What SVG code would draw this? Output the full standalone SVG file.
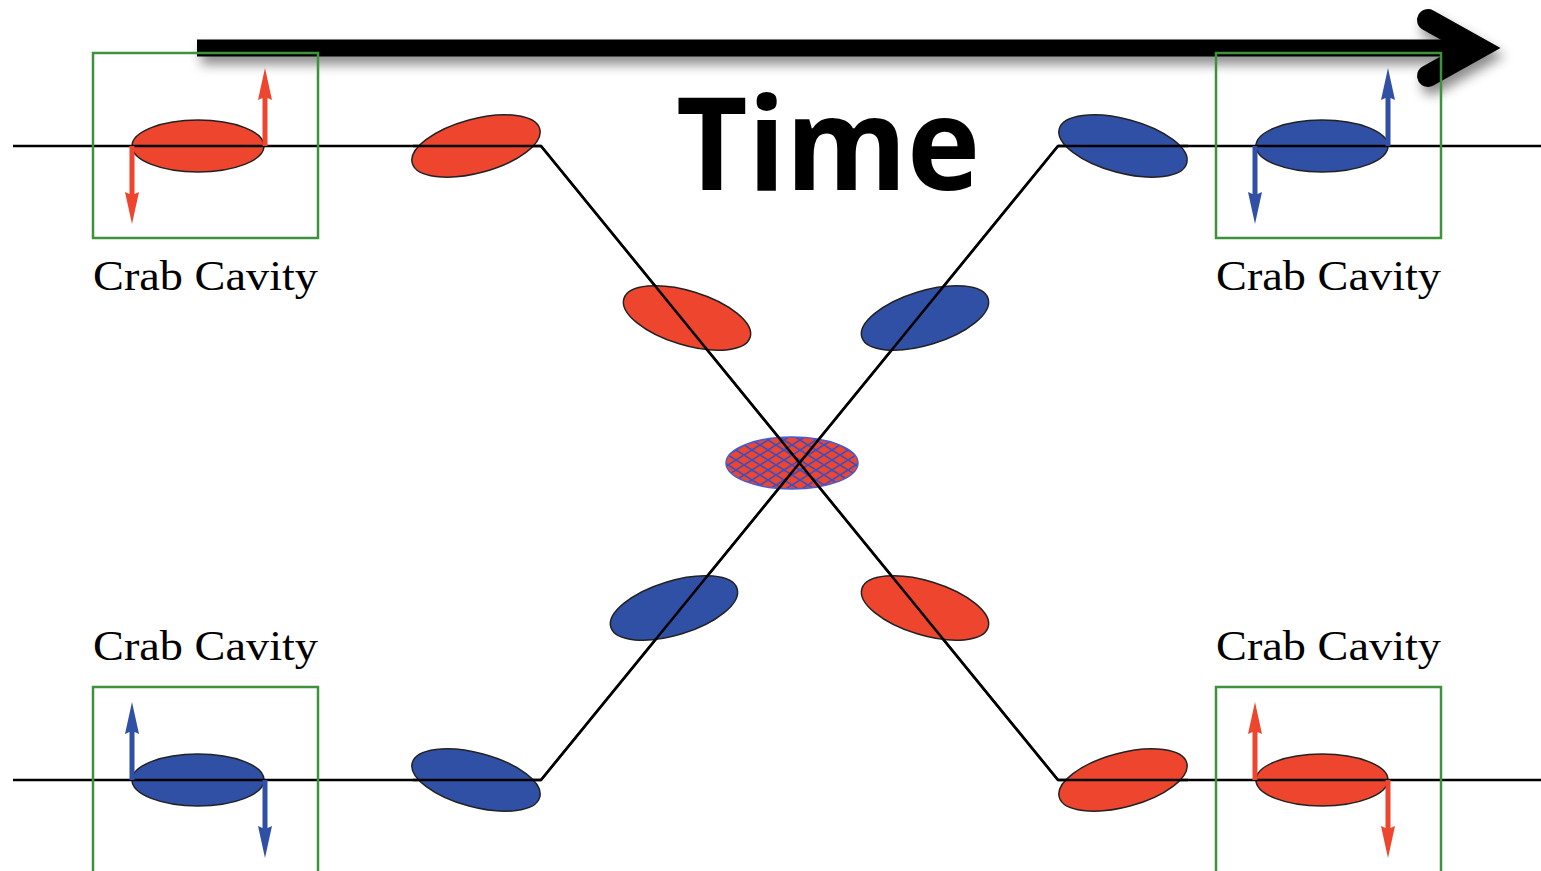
<svg xmlns="http://www.w3.org/2000/svg" width="1541" height="871" viewBox="0 0 1541 871">
<defs>
<style>
.red{fill:#EE452E;stroke:#222;stroke-width:1.5}
.blue{fill:#3050A6;stroke:#222;stroke-width:1.5}
.box{fill:none;stroke:#3F923C;stroke-width:2.5}
.beam{fill:none;stroke:#000;stroke-width:2.5}
.lbl{font-family:"Liberation Serif",serif;font-size:43px;fill:#000}
.ra{fill:#EE452E}
.ba{fill:#3050A6}
</style>
<pattern id="hatch" width="16" height="10" patternUnits="userSpaceOnUse">
<rect width="16" height="10" fill="#EE452E"/>
<path d="M0,0 L16,10 M16,0 L0,10" stroke="#3A4FC0" stroke-width="1.6"/>
</pattern>
<filter id="sh" x="-5%" y="-50%" width="110%" height="250%">
<feDropShadow dx="4" dy="8" stdDeviation="6" flood-color="#000" flood-opacity="0.45"/>
</filter>
<path id="up" d="M-2.5,0 L-2.5,-48 L-7,-46 L0,-78 L7,-46 L2.5,-48 L2.5,0 Z"/>
</defs>

<g id="connectors">
<polyline class="beam" points="13,146 541,146 1058,780 1541,780"/>
<polyline class="beam" points="13,780 541,780 1058,146 1541,146"/>
</g>

<g id="time">
<g filter="url(#sh)">
<line x1="197" y1="48" x2="1470" y2="48" stroke="#000" stroke-width="17"/>
<polyline points="1428,20 1478,48 1428,76" fill="none" stroke="#000" stroke-width="22" stroke-linecap="round" stroke-linejoin="miter"/>
</g>
<text x="676" y="190" font-family="'Open Sans',sans-serif" font-weight="bold" font-size="130" textLength="304" lengthAdjust="spacingAndGlyphs">Time</text>
</g>

<g id="cc-top-left">
<rect class="box" x="93" y="53" width="225" height="185"/>
<ellipse class="red" cx="198" cy="146" rx="66" ry="26"/>
<line x1="132" y1="146" x2="265" y2="146" stroke="#000" stroke-width="2.5"/>
<use href="#up" class="ra" x="265" y="146"/>
<use href="#up" class="ra" transform="translate(132,146) scale(1,-1)"/>
<text class="lbl" x="93" y="290" textLength="225" lengthAdjust="spacingAndGlyphs">Crab Cavity</text>
</g>

<g id="cc-top-right">
<rect class="box" x="1216" y="53" width="225" height="185"/>
<ellipse class="blue" cx="1322" cy="146" rx="66" ry="26"/>
<line x1="1255" y1="146" x2="1388" y2="146" stroke="#000" stroke-width="2.5"/>
<use href="#up" class="ba" x="1388" y="146"/>
<use href="#up" class="ba" transform="translate(1255,146) scale(1,-1)"/>
<text class="lbl" x="1216" y="290" textLength="225" lengthAdjust="spacingAndGlyphs">Crab Cavity</text>
</g>

<g id="cc-bottom-left">
<rect class="box" x="93" y="687" width="225" height="200"/>
<ellipse class="blue" cx="198" cy="780" rx="66" ry="26"/>
<line x1="132" y1="780" x2="265" y2="780" stroke="#000" stroke-width="2.5"/>
<use href="#up" class="ba" x="132" y="780"/>
<use href="#up" class="ba" transform="translate(265,780) scale(1,-1)"/>
<text class="lbl" x="93" y="660" textLength="225" lengthAdjust="spacingAndGlyphs">Crab Cavity</text>
</g>

<g id="cc-bottom-right">
<rect class="box" x="1216" y="687" width="225" height="200"/>
<ellipse class="red" cx="1322" cy="780" rx="66" ry="26"/>
<line x1="1255" y1="780" x2="1388" y2="780" stroke="#000" stroke-width="2.5"/>
<use href="#up" class="ra" x="1255" y="780"/>
<use href="#up" class="ra" transform="translate(1388,780) scale(1,-1)"/>
<text class="lbl" x="1216" y="660" textLength="225" lengthAdjust="spacingAndGlyphs">Crab Cavity</text>
</g>

<g id="bunch-r1"><ellipse class="red" cx="0" cy="0" rx="66" ry="27" transform="translate(476,146) rotate(-15)"/><line x1="413" y1="146" x2="541" y2="146" stroke="#000" stroke-width="2.5"/></g>
<g id="bunch-r2"><ellipse class="red" cx="0" cy="0" rx="66" ry="27" transform="translate(687,318) rotate(17)"/></g>
<g id="bunch-r3"><ellipse class="red" cx="0" cy="0" rx="66" ry="27" transform="translate(925,608) rotate(17)"/></g>
<g id="bunch-r4"><ellipse class="red" cx="0" cy="0" rx="66" ry="27" transform="translate(1123,780) rotate(-15)"/><line x1="1058" y1="780" x2="1188" y2="780" stroke="#000" stroke-width="2.5"/></g>
<g id="bunch-b1"><ellipse class="blue" cx="0" cy="0" rx="66" ry="27" transform="translate(476,780) rotate(15)"/><line x1="413" y1="780" x2="541" y2="780" stroke="#000" stroke-width="2.5"/></g>
<g id="bunch-b2"><ellipse class="blue" cx="0" cy="0" rx="66" ry="27" transform="translate(674,608) rotate(-17)"/></g>
<g id="bunch-b3"><ellipse class="blue" cx="0" cy="0" rx="66" ry="27" transform="translate(925,318) rotate(-17)"/></g>
<g id="bunch-b4"><ellipse class="blue" cx="0" cy="0" rx="66" ry="27" transform="translate(1123,146) rotate(15)"/><line x1="1058" y1="146" x2="1188" y2="146" stroke="#000" stroke-width="2.5"/></g>

<g id="collision">
<ellipse cx="792" cy="463" rx="66" ry="26" fill="url(#hatch)" stroke="#4A5CD0" stroke-width="1.5"/>
</g>

<g id="beam-overlay">
<line x1="541" y1="146" x2="1058" y2="780" class="beam"/>
<line x1="541" y1="780" x2="1058" y2="146" class="beam"/>
</g>
</svg>
